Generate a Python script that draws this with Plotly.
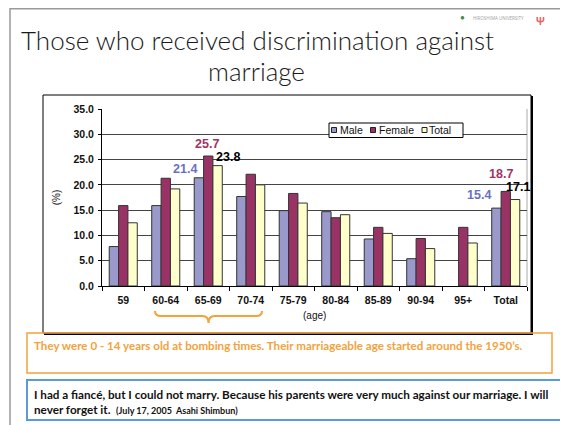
import plotly.graph_objects as go

categories = ['59', '60-64', '65-69', '70-74', '75-79', '80-84', '85-89', '90-94', '95+', 'Total']
male = [7.8, 15.9, 21.4, 17.7, 14.9, 14.7, 9.3, 5.4, None, 15.4]
female = [15.9, 21.3, 25.7, 22.1, 18.3, 13.5, 11.6, 9.4, 11.6, 18.7]
total = [12.5, 19.2, 23.8, 20.0, 16.4, 14.1, 10.4, 7.4, 8.5, 17.1]
y_ticks = [0, 5, 10, 15, 20, 25, 30, 35]
series_names = ['Male', 'Female', 'Total']

title_lines = ["Those who received discrimination against", "marriage"]
note_orange = "They were 0 - 14 years old at bombing times. Their marriageable age started around the 1950\u2019s."
quote_line1 = "I had a fianc\u00e9, but I could not marry. Because his parents were very much against our marriage. I will"
quote_line2 = "never forget it."
quote_source = "(July 17, 2005  Asahi Shimbun)"

C_MALE, C_FEMALE, C_TOTAL = '#9999cc', '#993366', '#ffffcc'
ORANGE, BLUE = '#f4a23c', '#5b9bd5'

# The page body adds an 8px margin, so the figure is 8px smaller than the window.
OFF = 8
FW, FH = 568 - OFF, 425 - OFF
# plot area in window pixels: x 102..527, y 109..286
PL, PT, PW, PH = 102, 109, 425, 177
L, T = PL - OFF, PT - OFF
def px(x):
    return (x - PL) / PW
def py(y):
    return (PT + PH - y) / PH

fig = go.Figure()
for name, vals, col in zip(series_names, [male, female, total], [C_MALE, C_FEMALE, C_TOTAL]):
    fig.add_trace(go.Bar(name=name, x=categories, y=vals, showlegend=False,
                         marker=dict(color=col, line=dict(color='#333333', width=1))))

ann = []
lab_font = dict(family='Liberation Sans', size=12.5, weight='bold')
def vlab(cat, series, col, xs, ys):
    i = categories.index(cat)
    v = series[i]
    ann.append(dict(x=cat, y=v, xref='x', yref='y', text=f"{v:.1f}", showarrow=False,
                    xanchor='center', yanchor='bottom', xshift=xs, yshift=ys,
                    font=dict(lab_font, color=col)))
vlab('65-69', female, '#a03366', -1.5, 3)
vlab('65-69', male, '#6a70c0', -23, 0)
vlab('65-69', total, '#000000', 20, 0)
vlab('Total', female, '#a03366', -5, 8)
vlab('Total', male, '#6a70c0', -27, 4)
vlab('Total', total, '#000000', 12, 4)

# title
tfont = dict(family='Lato', size=26, weight=300, color='#1a1a1a')
ann.append(dict(x=px(257), y=py(40), xref='paper', yref='paper', text=title_lines[0], showarrow=False,
                xanchor='center', yanchor='middle', font=tfont))
ann.append(dict(x=px(256), y=py(70.5), xref='paper', yref='paper', text=title_lines[1], showarrow=False,
                xanchor='center', yanchor='middle', font=tfont))
# logo-ish
ann.append(dict(x=px(462), y=py(17), xref='paper', yref='paper', text='\u25cf', showarrow=False,
                xanchor='center', yanchor='middle', borderpad=0, font=dict(size=8, color='#4a8a3a')))
ann.append(dict(x=px(472), y=py(18), xref='paper', yref='paper', text='HIROSHIMA UNIVERSITY', showarrow=False,
                xanchor='left', yanchor='middle', borderpad=0, font=dict(size=4.5, color='#a0a0a0')))
ann.append(dict(x=px(540), y=py(21), xref='paper', yref='paper', text='\u03a8', showarrow=False,
                xanchor='center', yanchor='middle', borderpad=0, font=dict(size=10, color='#e86060', weight='bold')))
# x-axis title
ann.append(dict(x=0.5, y=py(315), xref='paper', yref='paper', text='(age)', showarrow=False,
                xanchor='center', yanchor='middle', font=dict(family='Liberation Sans', size=10, color='#111')))
# orange note
ann.append(dict(x=px(32), y=py(345), xref='paper', yref='paper', text=note_orange, showarrow=False,
                xanchor='left', yanchor='middle', font=dict(family='Lato', size=11.6, weight='bold', color=ORANGE)))
# quote
ann.append(dict(x=px(32), y=py(401), xref='paper', yref='paper', showarrow=False, align='left',
                text=quote_line1 + '<br>' + quote_line2 + '  <span style="font-size:9px">' + quote_source + '</span>',
                xanchor='left', yanchor='middle', font=dict(family='Lato', size=11.7, weight='bold', color='#111')))

shapes = []
# slide border
shapes.append(dict(type='line', xref='paper', yref='paper', x0=px(10), x1=px(568), y0=py(8.7), y1=py(8.7),
                   line=dict(color='#9a9a9a', width=1.5)))
shapes.append(dict(type='line', xref='paper', yref='paper', x0=px(10), x1=px(10), y0=py(8), y1=py(425),
                   line=dict(color='#9a9a9a', width=1.5)))
# chart box
shapes.append(dict(type='rect', xref='paper', yref='paper', x0=px(43), x1=px(531), y0=py(95), y1=py(333),
                   line=dict(color='#000', width=1)))
shapes.append(dict(type='line', xref='paper', yref='paper', x0=px(532), x1=px(532), y0=py(96), y1=py(334),
                   line=dict(color='#000', width=2)))
shapes.append(dict(type='line', xref='paper', yref='paper', x0=px(44), x1=px(533), y0=py(334), y1=py(334),
                   line=dict(color='#000', width=2)))
# faint right border of the plot area
shapes.append(dict(type='line', xref='paper', yref='paper', x0=1, x1=1, y0=0, y1=1,
                   line=dict(color='#aaaaaa', width=1), layer='below'))
# legend box (compact, like the original)
shapes.append(dict(type='rect', xref='paper', yref='paper', x0=px(329), x1=px(463), y0=py(123), y1=py(137.5),
                   line=dict(color='#000', width=1), fillcolor='white'))
leg_sq_x = [331.5, 370.5, 422]
leg_tx_x = [338, 377, 427]
for name, col, sx, tx in zip(series_names, [C_MALE, C_FEMALE, C_TOTAL], leg_sq_x, leg_tx_x):
    shapes.append(dict(type='rect', xref='paper', yref='paper', x0=px(sx), x1=px(sx + 5), y0=py(127.5), y1=py(132.5),
                       line=dict(color='#222', width=1), fillcolor=col))
    ann.append(dict(x=px(tx), y=py(130.3), xref='paper', yref='paper', text=name, showarrow=False,
                    xanchor='left', yanchor='middle',
                    font=dict(family='Liberation Sans', size=10.5, color='#111')))
# brace
x0, x1, xm = 155, 262, 208.5
yt, ym, yp = 311, 316, 323
pts = lambda x, y: f"{px(x)},{py(y)}"
path = (f"M {pts(x0, yt)} Q {pts(x0, ym)} {pts(x0 + 6, ym)} L {pts(xm - 6, ym)} Q {pts(xm, ym)} {pts(xm, yp)} "
        f"Q {pts(xm, ym)} {pts(xm + 6, ym)} L {pts(x1 - 6, ym)} Q {pts(x1, ym)} {pts(x1, yt)}")
shapes.append(dict(type='path', xref='paper', yref='paper', path=path, line=dict(color=ORANGE, width=2)))
# orange and blue boxes
shapes.append(dict(type='rect', xref='paper', yref='paper', x0=px(27), x1=px(552), y0=py(333), y1=py(373),
                   line=dict(color=ORANGE, width=1.5)))
shapes.append(dict(type='rect', xref='paper', yref='paper', x0=px(27), x1=px(561), y0=py(380), y1=py(420),
                   line=dict(color=BLUE, width=2)))

fig.update_layout(
    width=FW, height=FH,
    margin=dict(l=L, r=FW - L - PW, t=T, b=FH - T - PH, pad=0),
    paper_bgcolor='white', plot_bgcolor='white',
    barmode='group', bargap=0.34, bargroupgap=0,
    showlegend=False,
    annotations=ann, shapes=shapes,
    xaxis=dict(type='category', range=[-0.5, len(categories) - 0.5], autorange=False, automargin=False,
               showline=True, linecolor='#000', linewidth=1, ticks='outside',
               tickson='boundaries', ticklen=4, tickcolor='#000', ticklabelstandoff=4,
               tickfont=dict(family='Liberation Sans', size=10.5, weight='bold', color='#111')),
    yaxis=dict(range=[0, 35], autorange=False, automargin=False, tickvals=y_ticks, tickformat='.1f',
               showline=True, linecolor='#000', linewidth=1,
               ticks='outside', ticklen=3, tickcolor='#000', showgrid=True, gridcolor='#444', gridwidth=1,
               zeroline=False, ticklabelstandoff=2,
               tickfont=dict(family='Liberation Sans', size=10.5, weight='bold', color='#111'),
               title=dict(text='(%)', standoff=10, font=dict(family='Liberation Sans', size=10, color='#111'))),
)
fig.write_html("out.html")
